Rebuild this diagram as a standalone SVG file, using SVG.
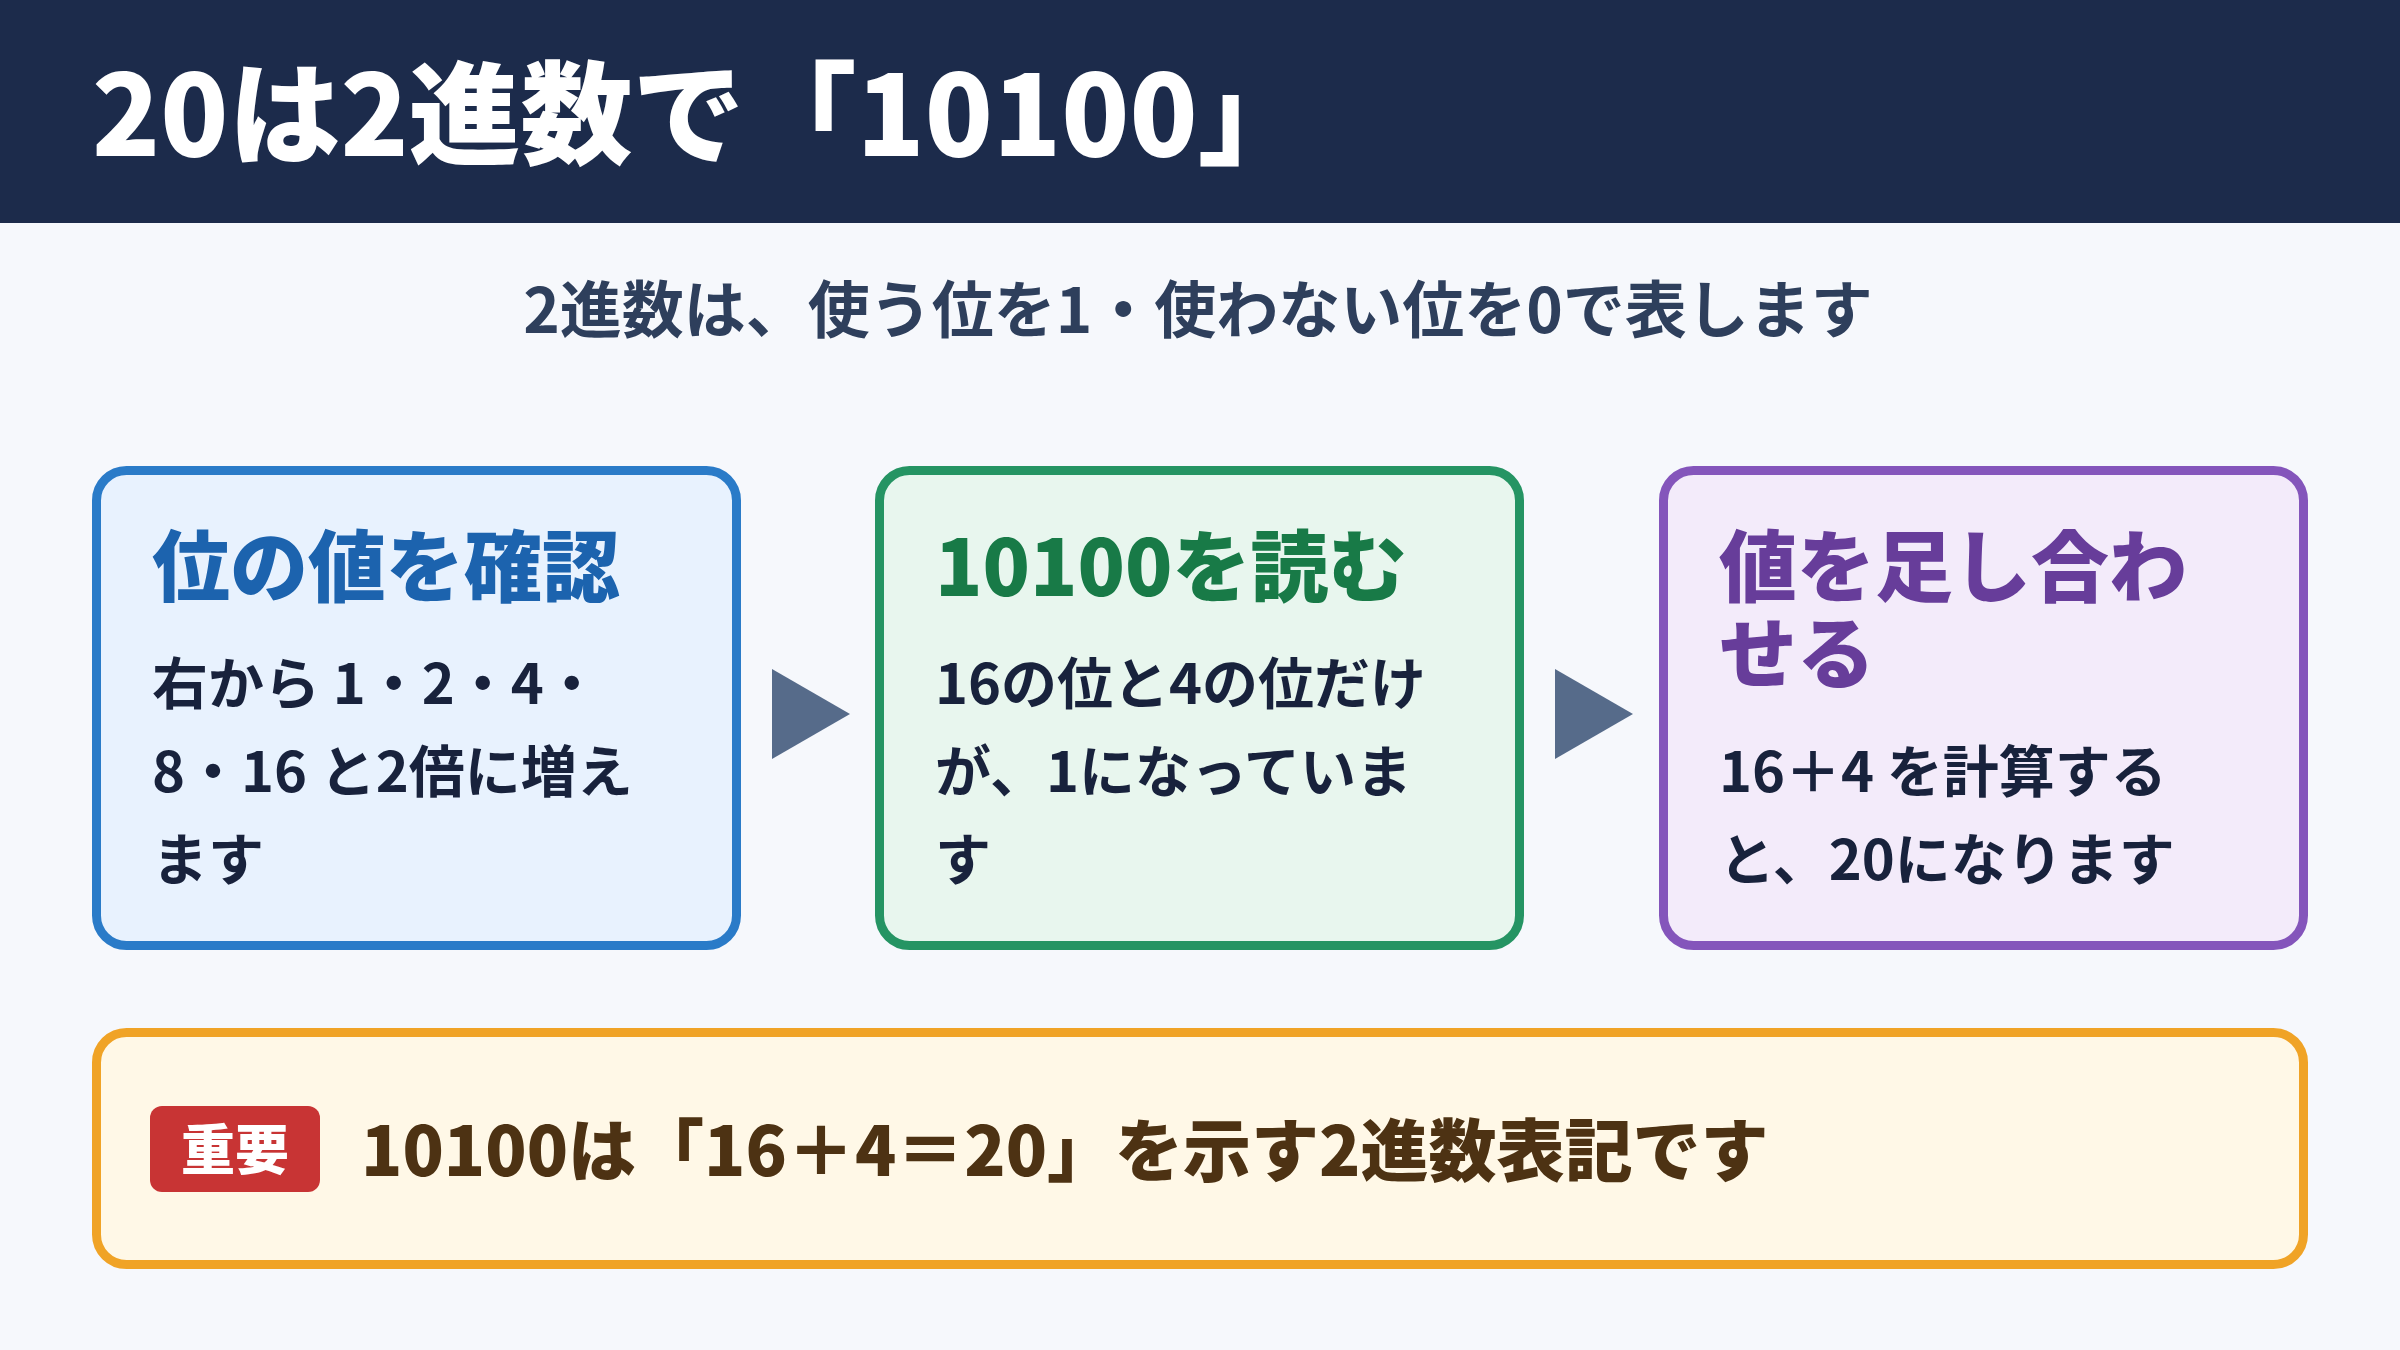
<svg xmlns="http://www.w3.org/2000/svg" width="2400" height="1350" viewBox="0 0 2400 1350">
<style>
text{font-family:"Noto Sans CJK JP","Noto Sans CJK SC",sans-serif;}
.title{font-size:112px;font-weight:900;fill:#ffffff;}
.sub{font-size:62px;font-weight:700;fill:#2e3f5c;}
.ct{font-size:78px;font-weight:900;}
.body{font-size:56px;font-weight:700;fill:#18223c;}
.card{stroke-width:9;}
.arrow{fill:#566b8a;}
</style>
<rect x="0" y="0" width="2400" height="1350" fill="#f6f8fc"/>
<g id="header">
<rect x="0" y="0" width="2400" height="223" fill="#1c2b4b"/>
<text class="title" x="92" y="156">20は2進数で「10100」</text>
</g>
<g id="subtitle">
<text class="sub" x="1198" y="333" text-anchor="middle">2進数は、使う位を1・使わない位を0で表します</text>
</g>
<g id="card1">
<rect class="card" x="96.5" y="470.5" width="640" height="475" rx="30" fill="#e8f2fe" stroke="#2a7bc8"/>
<text class="ct" x="152" y="596" fill="#1c63ae">位の値を確認</text>
<text class="body" x="152" y="704">右から 1・2・4・</text>
<text class="body" x="152" y="792">8・16 と2倍に増え</text>
<text class="body" x="152" y="880">ます</text>
</g>
<g id="card2">
<rect class="card" x="879.5" y="470.5" width="640" height="475" rx="30" fill="#e8f6ee" stroke="#259463"/>
<text class="ct" x="935" y="596" fill="#187a47">10100を読む</text>
<text class="body" x="935" y="704">16の位と4の位だけ</text>
<text class="body" x="935" y="792">が、1になっていま</text>
<text class="body" x="935" y="880">す</text>
</g>
<g id="card3">
<rect class="card" x="1663.5" y="470.5" width="640" height="475" rx="30" fill="#f3ebfa" stroke="#8455bb"/>
<text class="ct" fill="#673d9a"><tspan x="1719" y="596">値を足し合わ</tspan><tspan x="1719" y="683">せる</tspan></text>
<text class="body" x="1719" y="792">16＋4 を計算する</text>
<text class="body" x="1719" y="880">と、20になります</text>
</g>
<g id="connectors">
<polygon class="arrow" points="772,669 850,714 772,759"/>
<polygon class="arrow" points="1555,669 1633,714 1555,759"/>
</g>
<g id="note">
<rect x="96.5" y="1032.5" width="2207" height="232" rx="30" fill="#fff8e7" stroke="#f0a326" stroke-width="9"/>
<rect x="150" y="1106" width="170" height="86" rx="12" fill="#c83434"/>
<text x="235" y="1170" text-anchor="middle" font-size="54" font-weight="900" fill="#ffffff">重要</text>
<text x="361" y="1176" font-size="68" font-weight="900" fill="#4d3213">10100は「16＋4＝20」を示す2進数表記です</text>
</g>
</svg>
